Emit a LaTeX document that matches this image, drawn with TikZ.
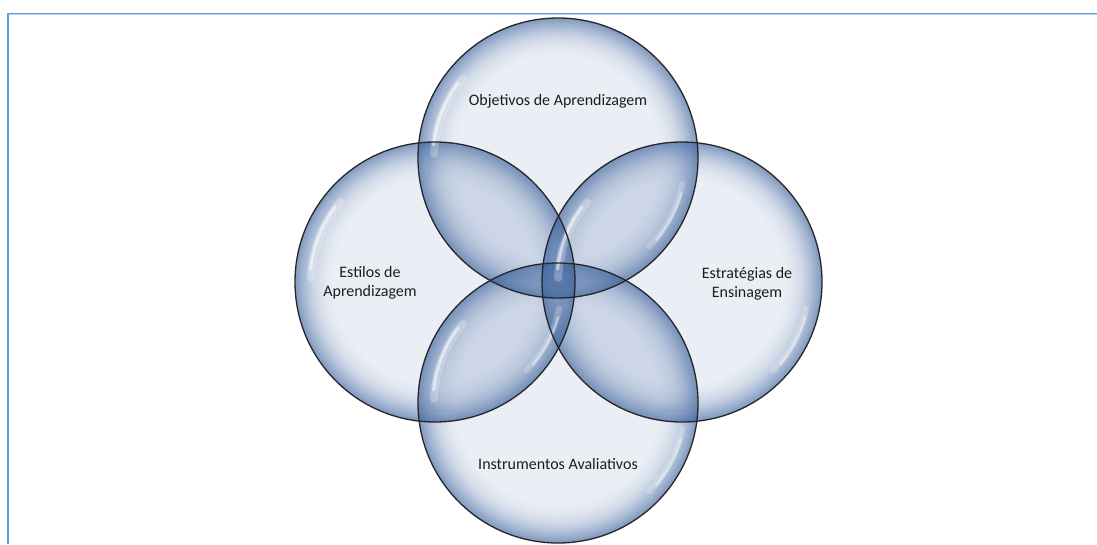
\documentclass[tikz,border=0pt]{standalone}
\usepackage{fontspec}
\setmainfont{Carlito}
\definecolor{bubbleblue}{RGB}{58,96,156}
\definecolor{frameblue}{RGB}{96,157,214}
\definecolor{framelight}{RGB}{190,214,238}
\definecolor{labelgray}{RGB}{28,28,28}
\tikzset{
  label text/.style={font=\fontsize{16}{18.5}\selectfont, text=labelgray, align=center, inner sep=0pt},
  glass/.style={fill=bubbleblue, fill opacity=#1},
  rim/.style={draw=black!85, line width=1.3pt},
  gloss/.style={draw=white, line cap=round, line width=#1},
}
\newcommand{\bubr}{140}

\begin{document}
\begin{tikzpicture}[x=1pt,y=-1pt]
  \useasboundingbox (0,0) rectangle (1097,544);
  \draw[framelight, line width=1pt] (1097,14.4) -- (9,14.4);
  \draw[frameblue, line width=1.4pt] (7.8,544) -- (7.8,13.2) -- (1097,13.2);

  \coordinate (objc) at (558,158);
  \coordinate (estc) at (435,282);
  \coordinate (ensc) at (682,282);
  \coordinate (insc) at (558,403);

  % glass bodies
  \foreach \c in {objc,estc,ensc,insc}{
    \fill[glass=0.10] (\c) circle[radius=\bubr pt];
    \foreach \i [evaluate=\i as \op using {0.004+0.055*(\i/40)^2},
                 evaluate=\i as \rin using {\bubr*(0.72+0.28*\i/40)}] in {0,...,39}
      \fill[glass=\op, even odd rule] (\c) circle[radius=\bubr pt] (\c) circle[radius=\rin pt];
  }
  % overlaps
  \foreach \a/\b in {objc/estc,objc/ensc,objc/insc,estc/ensc,estc/insc,ensc/insc}{
    \begin{scope}
      \clip (\a) circle[radius=\bubr pt];
      \fill[glass=0.08] (\b) circle[radius=\bubr pt];
    \end{scope}
  }
  % highlights
  \foreach \c in {objc,estc,ensc,insc}{
    \draw[gloss=8pt, draw opacity=0.25] ([shift={(140:124pt)}]\c) arc[start angle=140, end angle=178, radius=124pt];
    \draw[gloss=3pt, draw opacity=0.55] ([shift={(143:125pt)}]\c) arc[start angle=143, end angle=174, radius=125pt];
    \draw[gloss=6pt, draw opacity=0.22] ([shift={(-12:127pt)}]\c) arc[start angle=-12, end angle=-44, radius=127pt];
    \draw[gloss=2.5pt, draw opacity=0.4] ([shift={(-16:128pt)}]\c) arc[start angle=-16, end angle=-40, radius=128pt];
  }
  \foreach \c in {objc,estc,ensc,insc}
    \draw[rim] (\c) circle[radius=\bubr pt];

  \node[label text] (obj) at (558,101) {Objetivos de Aprendizagem};
  \node[label text] (est) at (370,283) {Estilos de\\Aprendizagem};
  \node[label text] (ens) at (747,284) {Estratégias de\\Ensinagem};
  \node[label text] (ins) at (558,464) {Instrumentos Avaliativos};
\end{tikzpicture}
\end{document}
